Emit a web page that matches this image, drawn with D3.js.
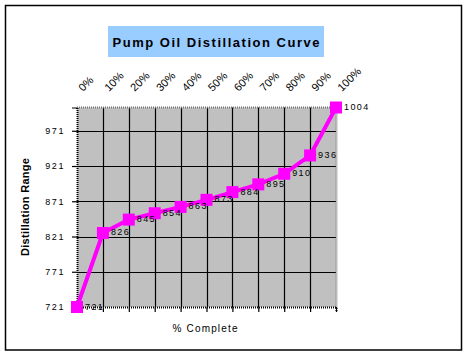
<!DOCTYPE html>
<html>
<head>
<meta charset="utf-8">
<script src="https://cdn.jsdelivr.net/npm/d3@7"></script>
<style>
  html, body { margin: 0; padding: 0; background: #fff; }
  svg { display: block; }
  text { font-family: "Liberation Sans", Arial, sans-serif; fill: #000; }
</style>
</head>
<body>
<svg id="chart" width="468" height="356"></svg>
<script>
const categories = [0, 10, 20, 30, 40, 50, 60, 70, 80, 90, 100];
const categoryLabels = ["0%", "10%", "20%", "30%", "40%", "50%", "60%", "70%", "80%", "90%", "100%"];
const values = [721, 826, 845, 854, 863, 873, 884, 895, 910, 936, 1004];
const yTicks = [721, 771, 821, 871, 921, 971];
const title = "Pump Oil Distillation Curve";
const yTitle = "Distillation Range";
const xTitle = "% Complete";

(function () {
const svg = d3.select("#chart");
const pL = 77, pR = 336, pT = 107.5, pB = 307;
const x = d3.scaleLinear().domain([0, 100]).range([pL, pR]);
const y = d3.scaleLinear().domain([721, 1004]).range([pB, pT]);

// outer border
svg.append("rect").attr("x", 5.5).attr("y", 5.5).attr("width", 456).attr("height", 344.5)
  .attr("fill", "#fff").attr("stroke", "#000").attr("stroke-width", 1.5);

// title
svg.append("rect").attr("x", 108).attr("y", 26).attr("width", 216).attr("height", 31).attr("fill", "#99ccff");
svg.append("text").attr("x", 216).attr("y", 46.5).attr("text-anchor", "middle")
  .attr("font-size", 13).attr("font-weight", "bold")
  .attr("textLength", 207).attr("lengthAdjust", "spacing").text(title);

// plot background
svg.append("rect").attr("x", pL).attr("y", pT).attr("width", pR - pL).attr("height", pB - pT)
  .attr("fill", "#c0c0c0");

// horizontal gridlines
svg.append("g").selectAll("line").data(yTicks.filter(d => d !== 721)).join("line")
  .attr("x1", pL).attr("x2", pR)
  .attr("y1", d => Math.round(y(d)) + 0.5).attr("y2", d => Math.round(y(d)) + 0.5)
  .attr("stroke", "#000").attr("stroke-width", 1.2);

// vertical gridlines
svg.append("g").selectAll("line").data(categories.filter(d => d !== 0 && d !== 100)).join("line")
  .attr("x1", d => Math.round(x(d)) + 0.5).attr("x2", d => Math.round(x(d)) + 0.5)
  .attr("y1", pT).attr("y2", pB)
  .attr("stroke", "#000").attr("stroke-width", 1.2);

// top & right hatched borders
svg.append("line").attr("x1", pL).attr("x2", pR + 1).attr("y1", pT).attr("y2", pT)
  .attr("stroke", "#777").attr("stroke-width", 2).attr("stroke-dasharray", "1,1");
svg.append("line").attr("x1", pR + 0.5).attr("x2", pR + 0.5).attr("y1", pT).attr("y2", pB)
  .attr("stroke", "#777").attr("stroke-width", 2).attr("stroke-dasharray", "1,1");

// left axis
const yAxis = d3.axisLeft(y).tickValues(yTicks).tickSize(5).tickPadding(7).tickFormat(d3.format("d"));
const gy = svg.append("g").attr("transform", `translate(${pL},0)`).call(yAxis);
gy.select(".domain").attr("stroke", "#000").attr("stroke-width", 2).attr("stroke-dasharray", "1,1");
gy.selectAll(".tick line").attr("stroke", "#000").attr("stroke-width", 1.2);
gy.selectAll(".tick text").attr("font-size", 9).attr("letter-spacing", 1.6)
  .attr("font-family", "'Liberation Sans', Arial, sans-serif").attr("fill", "#000");

// bottom axis
const xAxis = d3.axisBottom(x).tickValues(categories).tickSize(5).tickFormat("");
const gx = svg.append("g").attr("transform", `translate(0,${pB})`).call(xAxis);
gx.select(".domain").attr("stroke", "#000").attr("stroke-width", 2).attr("stroke-dasharray", "1,1");
gx.selectAll(".tick line").attr("stroke", "#000").attr("stroke-width", 1.2);

// top category labels
svg.append("g").selectAll("text").data(categories).join("text")
  .attr("transform", d => `translate(${x(d) + 6},92) rotate(-45)`)
  .attr("font-size", 11).attr("text-anchor", "start")
  .text((d, i) => categoryLabels[i]);

// axis titles
svg.append("text").attr("transform", "translate(29,207) rotate(-90)").attr("text-anchor", "middle")
  .attr("font-size", 11).attr("font-weight", "bold")
  .attr("textLength", 98).attr("lengthAdjust", "spacing").text(yTitle);
svg.append("text").attr("x", 205).attr("y", 332).attr("text-anchor", "middle")
  .attr("font-size", 10)
  .attr("textLength", 65).attr("lengthAdjust", "spacing").text(xTitle);

// line
const data = categories.map((c, i) => ({ c, v: values[i] }));
svg.append("path").datum(data)
  .attr("d", d3.line().x(d => x(d.c)).y(d => y(d.v)))
  .attr("fill", "none").attr("stroke", "#ff00ff").attr("stroke-width", 4);

// markers
const ms = 12;
svg.append("g").selectAll("rect").data(data).join("rect")
  .attr("x", d => x(d.c) - ms / 2).attr("y", d => y(d.v) - ms / 2)
  .attr("width", ms).attr("height", ms).attr("fill", "#ff00ff");

// data labels
svg.append("g").selectAll("text").data(data).join("text")
  .attr("x", d => x(d.c) + 8).attr("y", d => y(d.v) + 2.5)
  .attr("font-size", 9).attr("letter-spacing", 1.4)
  .text(d => d.v);
})();
</script>
</body>
</html>
